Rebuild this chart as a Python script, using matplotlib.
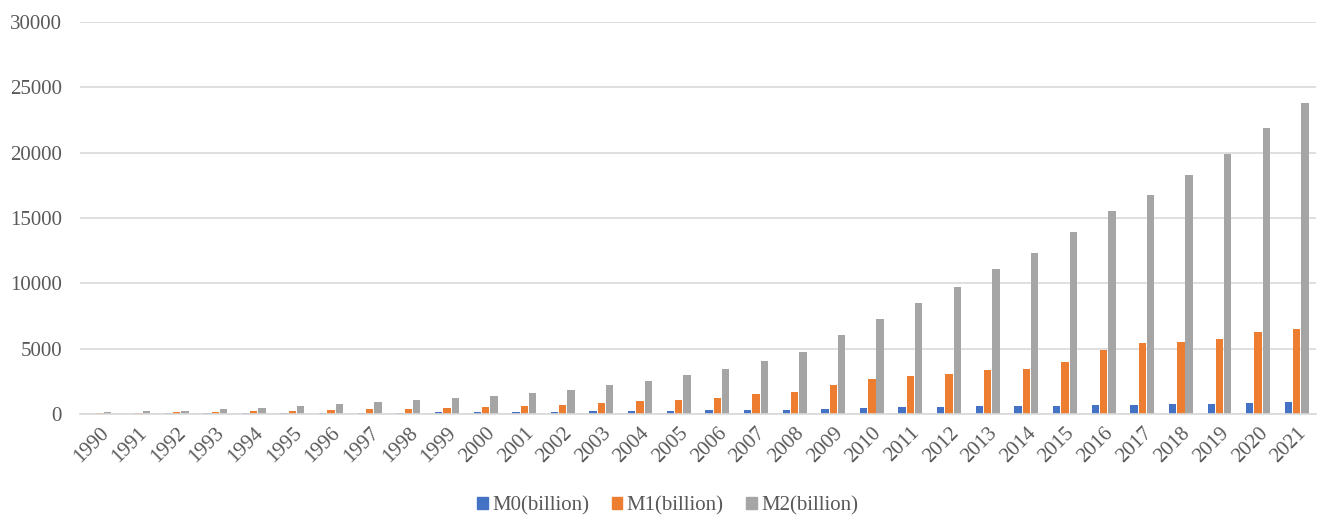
import matplotlib.pyplot as plt
import numpy as np
from matplotlib.patches import Patch

years = [str(y) for y in range(1990, 2022)]
m0 = [26, 32, 43, 59, 73, 79, 88, 102, 112, 135, 147, 157, 173, 198, 215, 240,
      271, 303, 342, 383, 446, 508, 547, 586, 603, 632, 683, 707, 732, 772, 843, 908]
m1 = [70, 89, 117, 163, 205, 235, 285, 348, 390, 458, 531, 599, 709, 841, 960, 1073,
      1260, 1525, 1662, 2200, 2666, 2898, 3087, 3373, 3481, 4010, 4866, 5438, 5517, 5760, 6256, 6474]
m2 = [153, 193, 254, 349, 469, 608, 761, 910, 1045, 1199, 1346, 1583, 1850, 2212, 2541, 2988,
      3456, 4034, 4752, 6062, 7259, 8516, 9741, 11065, 12284, 13923, 15501, 16768, 18267, 19865, 21868, 23829]
series = ['M0(billion)', 'M1(billion)', 'M2(billion)']
colors = ['#4472C4', '#ED7D31', '#A5A5A5']

plt.rcParams['font.family'] = 'Liberation Serif'

fig = plt.figure(figsize=(13.22, 5.16), dpi=100, facecolor='white')
ax = fig.add_axes([0.0605, 0.1977, 0.935, 0.7597])

x = np.arange(len(years))
w = 0.19
for i, (vals, c) in enumerate(zip([m0, m1, m2], colors)):
    ax.bar(x + (i - 1) * 0.215, vals, width=w, color=c, zorder=2)

ax.set_xlim(-0.5, len(years) - 0.5)
ax.set_ylim(0, 30000)
ax.set_yticks(range(0, 30001, 5000))
ax.yaxis.grid(True, color='#d9d9d9', linewidth=1.2, zorder=0)
ax.set_xticks(x)
ax.set_xticklabels(years, rotation=45, ha='right', rotation_mode='anchor')
ax.tick_params(axis='both', length=0, labelsize=15, colors='#595959')
ax.tick_params(axis='x', pad=7)
ax.tick_params(axis='y', pad=13)
for s in ['top', 'right', 'left']:
    ax.spines[s].set_visible(False)
ax.spines['bottom'].set_color('#d9d9d9')
ax.spines['bottom'].set_linewidth(1.2)

handles = [Patch(color=c, label=s) for c, s in zip(colors, series)]
fig.legend(handles=handles, loc='center', bbox_to_anchor=(0.505, 0.02), ncol=3, frameon=False,
           fontsize=15, handlelength=0.5, handleheight=0.5, handletextpad=0.2, columnspacing=1.1,
           labelcolor='#595959')

fig.savefig('out.png', dpi=100, facecolor='white')
